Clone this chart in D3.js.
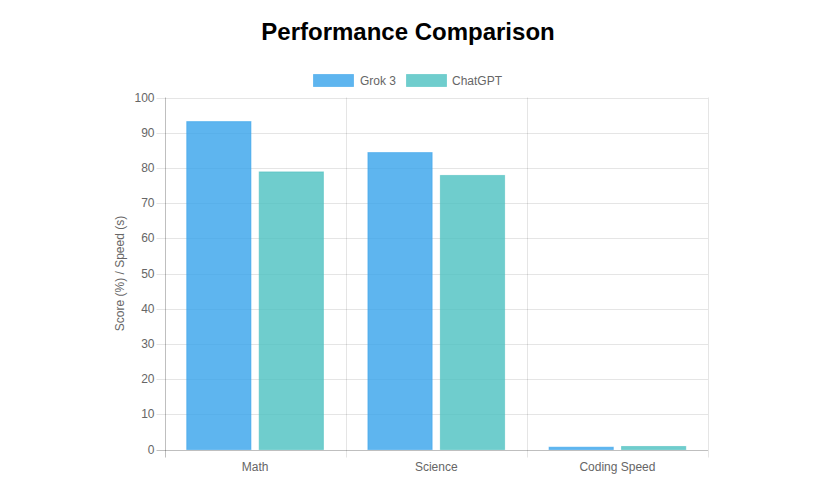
<!DOCTYPE html>
<html><head><meta charset="utf-8">
<script src="https://cdn.jsdelivr.net/npm/d3@7"></script>
<style>body{margin:0;background:#fff;}svg{display:block;font-family:Arial,"Liberation Sans",sans-serif;}</style>
</head><body><svg id="c" width="819" height="486"></svg>
<script>
const categories = ["Math", "Science", "Coding Speed"];
const seriesNames = ["Grok 3", "ChatGPT"];
const grokValues = [93.3, 84.5, 0.8];
const chatgptValues = [79, 78, 1.0];
const yTicks = [0,10,20,30,40,50,60,70,80,90,100];

const fills = ["rgba(54,162,235,0.8)", "rgba(75,192,192,0.8)"];
const strokes = ["rgba(54,162,235,0.55)", "rgba(75,192,192,0.55)"];
const series = [grokValues, chatgptValues];

const svg = d3.select("#c");
const pLeft = 164.5, pRight = 708, pTop = 97.5, pBottom = 449.5;

const x = d3.scaleBand().domain(categories).range([pLeft, pRight]).paddingInner(0).paddingOuter(0);
const y = d3.scaleLinear().domain([0, 100]).range([pBottom, pTop]);

// title
svg.append("text").attr("x", 408).attr("y", 40).attr("text-anchor","middle")
  .attr("font-size", 24).attr("font-weight","bold").attr("fill","#000").text("Performance Comparison");

// legend
const legendPos = [{x:313, tx:360}, {x:406, tx:452}];
seriesNames.forEach((n,i)=>{
  svg.append("rect").attr("x", legendPos[i].x+0.5).attr("y", 74.5).attr("width", 40).attr("height", 12)
    .attr("fill", fills[i]).attr("stroke", strokes[i]).attr("stroke-width",1);
  svg.append("text").attr("x", legendPos[i].tx).attr("y", 85).attr("font-size",12).attr("fill","#666").text(n);
});

// horizontal grid
const g = svg.append("g");
yTicks.forEach(t=>{
  g.append("line").attr("x1", pLeft-8).attr("x2", pRight).attr("y1", Math.round(y(t))+0.5).attr("y2", Math.round(y(t))+0.5)
    .attr("stroke", t===0 ? "rgba(0,0,0,0.25)" : "rgba(0,0,0,0.1)");
  g.append("text").attr("x", 154.5).attr("y", y(t)+4).attr("text-anchor","end")
    .attr("font-size",12).attr("fill","#666").text(t);
});
// vertical grid
const vlines = categories.map(c=>x(c)).concat([pRight]);
vlines.forEach((vx,i)=>{
  g.append("line").attr("x1", Math.round(vx)+0.5).attr("x2", Math.round(vx)+0.5).attr("y1", pTop).attr("y2", pBottom+8)
    .attr("stroke", i===0 ? "rgba(0,0,0,0.25)" : "rgba(0,0,0,0.1)");
});

// x labels
categories.forEach(c=>{
  svg.append("text").attr("x", x(c)+x.bandwidth()/2).attr("y", 471).attr("text-anchor","middle")
    .attr("font-size",12).attr("fill","#666").text(c);
});

// y title
svg.append("text").attr("transform","translate(124,273.5) rotate(-90)").attr("text-anchor","middle")
  .attr("font-size",12).attr("fill","#666").text("Score (%) / Speed (s)");

// bars: Chart.js categoryPercentage 0.8, barPercentage 0.9
const inner = d3.scaleBand().domain(d3.range(series.length)).range([0, x.bandwidth()*0.8]);
series.forEach((vals,i)=>{
  svg.append("g").selectAll("rect").data(vals).join("rect")
    .attr("x",(d,j)=> x(categories[j]) + x.bandwidth()*0.1 + inner(i) + inner.bandwidth()*0.05 + 0.5)
    .attr("width", inner.bandwidth()*0.9 - 1)
    .attr("y", d=> y(d) + 0.5)
    .attr("height", d=> Math.max(0, pBottom - y(d) - 0.5))
    .attr("fill", fills[i]).attr("stroke", strokes[i]).attr("stroke-width",1);
});
</script></body></html>
